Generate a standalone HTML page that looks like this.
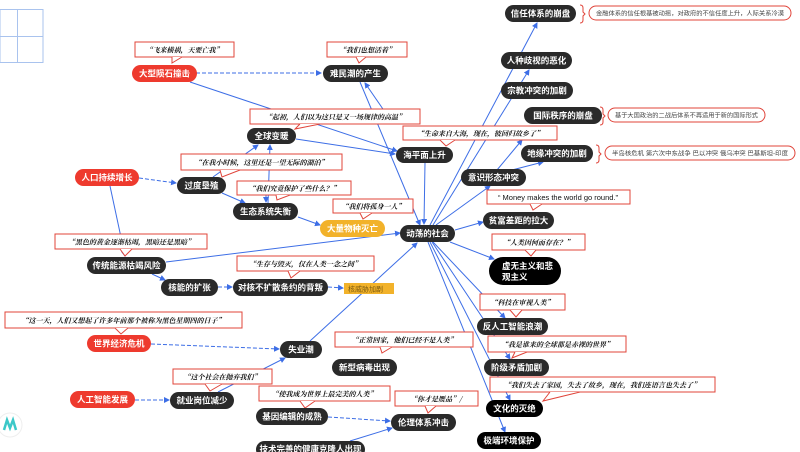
<!DOCTYPE html>
<html><head><meta charset="utf-8"><style>
html,body{margin:0;padding:0;background:#fff;width:800px;height:452px;overflow:hidden}
svg{display:block}
.n{fill:#2a2a2a}
.r{fill:#ee3a2e}
.nt{font-family:"Liberation Sans","Noto Sans CJK SC",sans-serif;font-size:8.5px;fill:#fff;text-anchor:middle;font-weight:bold}
.q{fill:#fff;stroke:#e0443a;stroke-width:1}
.qt{font-family:"Noto Serif CJK SC",serif;font-size:7px;font-style:italic;font-weight:bold;fill:#111;text-anchor:middle}
.e{stroke:#3d6ee6;stroke-width:1;fill:none;marker-end:url(#a)}
.d{stroke-dasharray:4 2}
.i{fill:#fff;stroke:#e0443a;stroke-width:1}
.it{font-family:"Liberation Sans","Noto Sans CJK SC",sans-serif;font-size:6.2px;fill:#444}
.b{stroke:#e0443a;fill:none;stroke-width:1}
</style></head><body>
<svg width="800" height="452" viewBox="0 0 800 452" xmlns="http://www.w3.org/2000/svg">
<defs><marker id="a" markerWidth="6" markerHeight="6" refX="5" refY="3" orient="auto"><path d="M0,0 L6,3 L0,6 z" fill="#3d6ee6"/></marker></defs>
<g stroke="#a9c3ee" stroke-width="1" fill="none"><rect x="0" y="9.5" width="43" height="53"/><line x1="17.5" y1="9" x2="17.5" y2="63"/><line x1="0" y1="36.5" x2="43" y2="36.5"/></g>

<line class="e d" x1="196" y1="73" x2="321" y2="73"/>
<line class="e" x1="190" y1="82" x2="397" y2="151"/>
<line class="e" x1="296" y1="139" x2="395" y2="154"/>
<line class="e" x1="385" y1="112" x2="365" y2="83"/>
<line class="e" x1="360" y1="82" x2="420" y2="225"/>
<line class="e d" x1="139" y1="178" x2="176" y2="183"/>
<line class="e" x1="110" y1="186" x2="125" y2="256"/>
<line class="e" x1="213" y1="177" x2="258" y2="145"/>
<line class="e" x1="222" y1="193" x2="245" y2="203"/>
<line class="e" x1="268" y1="203" x2="270" y2="145"/>
<line class="e" x1="266" y1="192" x2="266" y2="202"/>
<line class="e" x1="298" y1="217" x2="320" y2="225"/>
<line class="e" x1="166" y1="262" x2="400" y2="233"/>
<line class="e" x1="152" y1="274" x2="165" y2="280"/>
<line class="e d" x1="218" y1="287" x2="232" y2="287"/>
<line class="e d" x1="328" y1="287" x2="343" y2="288"/>
<line class="e d" x1="151" y1="344" x2="279" y2="349"/>
<line class="e d" x1="135" y1="400" x2="169" y2="400"/>
<line class="e" x1="218" y1="392" x2="285" y2="358"/>
<line class="e" x1="310" y1="341" x2="417" y2="243"/>
<line class="e d" x1="328" y1="417" x2="390" y2="421"/>
<line class="e" x1="350" y1="441" x2="392" y2="428"/>
<line class="e" x1="430" y1="225" x2="537" y2="23"/>
<line class="e" x1="433" y1="225" x2="529" y2="70"/>
<line class="e" x1="436" y1="225" x2="490" y2="186"/>
<line class="e" x1="497" y1="170" x2="522" y2="140"/>
<line class="e" x1="512" y1="170" x2="543" y2="162"/>
<line class="e" x1="425" y1="163" x2="424" y2="224"/>
<line class="e" x1="455" y1="230" x2="483" y2="222"/>
<line class="e" x1="450" y1="242" x2="494" y2="259"/>
<line class="e" x1="433" y1="242" x2="505" y2="318"/>
<line class="e" x1="432" y1="242" x2="510" y2="359"/>
<line class="e" x1="430" y1="242" x2="510" y2="400"/>
<line class="e" x1="428" y1="242" x2="505" y2="432"/>

<g>
<rect class="q" x="135" y="42" width="99" height="15"/><path class="q" d="M172,57 L172,63 L182,57" /><text class="qt" x="184" y="52.5">“飞来横祸，天要亡我”</text>
<rect class="q" x="327" y="42" width="80" height="15"/><path class="q" d="M356,57 L359,63 L366,57"/><text class="qt" x="367" y="52.5">“我们也想活着”</text>
<rect class="q" x="250" y="109" width="170" height="15"/><path class="q" d="M300,124 L295,129 L320,124"/><text class="qt" x="335" y="119.5">“起初，人们以为这只是又一场规律的高温”</text>
<rect class="q" x="403" y="126" width="154" height="14"/><path class="q" d="M440,140 L446,146 L455,140"/><text class="qt" x="480" y="136">“生命来自大海，现在，彼回归故乡了”</text>
<rect class="q" x="181" y="154" width="161" height="16"/><path class="q" d="M220,170 L222,177 L240,170"/><text class="qt" x="261" y="165">“在我小时候，这里还是一望无际的湖泊”</text>
<rect class="q" x="237" y="181" width="114" height="14"/><path class="q" d="M276,195 L277,200 L290,195"/><text class="qt" x="294" y="191">“我们究竟保护了些什么？”</text>
<rect class="q" x="333" y="199" width="80" height="14"/><path class="q" d="M360,213 L363,219 L372,213"/><text class="qt" x="373" y="209">“我们将孤身一人”</text>
<rect class="q" x="487" y="190" width="143" height="14"/><path class="q" d="M530,204 L533,210 L542,204"/><text class="qt" x="558" y="200" style="font-style:normal;font-weight:normal;font-family:'Liberation Sans',sans-serif;font-size:7.5px">“ Money makes the world go round.”</text>
<rect class="q" x="492" y="234" width="93" height="16"/><path class="q" d="M525,250 L531,256 L536,250"/><text class="qt" x="538" y="245">“人类因何而存在？”</text>
<rect class="q" x="55" y="234" width="152" height="15"/><path class="q" d="M120,249 L125,256 L132,249"/><text class="qt" x="131" y="244.5">“黑色的黄金逐渐枯竭，黑暗还是黑暗”</text>
<rect class="q" x="237" y="256" width="137" height="15"/><path class="q" d="M288,271 L291,278 L300,271"/><text class="qt" x="305" y="266.5">“生存与毁灭，仅在人类一念之间”</text>
<rect class="q" x="5" y="312" width="237" height="16"/><path class="q" d="M115,328 L121,334 L128,328"/><text class="qt" x="123" y="323">“这一天，人们又想起了许多年前那个被称为黑色星期四的日子”</text>
<rect class="q" x="480" y="294" width="85" height="16"/><path class="q" d="M510,310 L516,317 L522,310"/><text class="qt" x="522" y="305">“科技在审视人类”</text>
<rect class="q" x="173" y="369" width="99" height="15"/><path class="q" d="M205,384 L210,391 L222,384"/><text class="qt" x="222" y="379.5">“这个社会在抛弃我们”</text>
<rect class="q" x="335" y="332" width="138" height="15"/><path class="q" d="M380,347 L382,353 L392,347"/><text class="qt" x="404" y="342.5">“正常回家，他们已经不是人类”</text>
<rect class="q" x="488" y="336" width="138" height="16"/><path class="q" d="M515,352 L512,358 L527,352"/><text class="qt" x="557" y="347">“我是谁来的全球都是赤裸的世界”</text>
<rect class="q" x="259" y="386" width="131" height="15"/><path class="q" d="M300,401 L305,408 L315,401"/><text class="qt" x="324" y="396.5">“使我成为世界上最完美的人类”</text>
<rect class="q" x="490" y="377" width="225" height="15"/><path class="q" d="M550,392 L543,401 L580,392"/><text class="qt" x="602" y="387.5">“我们失去了家园，失去了故乡，现在，我们连语言也失去了”</text>
<rect class="q" x="395" y="391" width="83" height="15"/><path class="q" d="M425,406 L428,413 L436,406"/><text class="qt" x="436" y="401.5">“你才是赝品”/</text>
</g>

<path class="b" d="M580,5 q3,0 3,3 v4 l2,2 l-2,2 v4 q0,3 -3,3"/>
<rect class="i" x="589" y="6" width="202" height="14" rx="7"/><text class="it" x="596" y="15.3" textLength="188" lengthAdjust="spacingAndGlyphs">金融体系的信任根基被动摇，对政府的不信任度上升，人际关系冷漠</text>
<path class="b" d="M600,107 q3,0 3,3 v4 l2,2 l-2,2 v4 q0,3 -3,3"/>
<rect class="i" x="608" y="108" width="157" height="14" rx="7"/><text class="it" x="615" y="117.3" textLength="143" lengthAdjust="spacingAndGlyphs">基于大国政治的二战后体系不再适用于新的国际形式</text>
<path class="b" d="M596,145 q3,0 3,3 v4 l2,2 l-2,2 v4 q0,3 -3,3"/>
<rect class="i" x="605" y="146" width="190" height="14" rx="7"/><text class="it" x="612" y="155.3" textLength="176" lengthAdjust="spacingAndGlyphs">半岛核危机 第六次中东战争 巴以冲突 俄乌冲突 巴基斯坦-印度</text>

<g>
<rect class="r" x="132" y="65" width="65" height="17" rx="8.5"/><text class="nt" x="164.5" y="76.5">大型陨石撞击</text>
<rect class="n" x="323" y="65" width="65" height="17" rx="8.5"/><text class="nt" x="355.5" y="76.5">难民潮的产生</text>
<rect class="n" x="247" y="128" width="49" height="16" rx="8"/><text class="nt" x="271.5" y="139">全球变暖</text>
<rect class="r" x="75" y="169" width="64" height="17" rx="8.5"/><text class="nt" x="107" y="180.5">人口持续增长</text>
<rect class="n" x="177" y="177" width="49" height="17" rx="8.5"/><text class="nt" x="201.5" y="188.5">过度垦殖</text>
<rect class="n" x="233" y="203" width="65" height="17" rx="8.5"/><text class="nt" x="265.5" y="214.5">生态系统失衡</text>
<rect x="320" y="220" width="65" height="17" rx="8.5" fill="#f2b22a"/><text class="nt" x="352.5" y="231.5">大量物种灭亡</text>
<rect class="n" x="396" y="147" width="57" height="16" rx="8"/><text class="nt" x="424.5" y="158">海平面上升</text>
<rect class="n" x="505" y="5" width="71" height="17" rx="8.5"/><text class="nt" x="540.5" y="16.5">信任体系的崩盘</text>
<rect class="n" x="501" y="52" width="71" height="17" rx="8.5"/><text class="nt" x="536.5" y="63.5">人种歧视的恶化</text>
<rect class="n" x="501" y="82" width="72" height="17" rx="8.5"/><text class="nt" x="537" y="93.5">宗教冲突的加剧</text>
<rect class="n" x="524" y="107" width="78" height="17" rx="8.5"/><text class="nt" x="563" y="118.5">国际秩序的崩盘</text>
<rect class="n" x="521" y="145" width="72" height="17" rx="8.5"/><text class="nt" x="557" y="156.5">地缘冲突的加剧</text>
<rect class="n" x="461" y="169" width="65" height="17" rx="8.5"/><text class="nt" x="493.5" y="180.5">意识形态冲突</text>
<rect class="n" x="483" y="212" width="71" height="17" rx="8.5"/><text class="nt" x="518.5" y="223.5">贫富差距的拉大</text>
<rect class="n" x="400" y="225" width="55" height="17" rx="8.5"/><text class="nt" x="427.5" y="236.5">动荡的社会</text>
<rect x="489" y="257" width="72" height="28" rx="14" fill="#000"/><text class="nt" x="502" y="269" style="text-anchor:start">虚无主义和悲</text><text class="nt" x="502" y="280" style="text-anchor:start">观主义</text>
<rect class="n" x="477" y="318" width="71" height="17" rx="8.5"/><text class="nt" x="512.5" y="329.5">反人工智能浪潮</text>
<rect class="n" x="484" y="359" width="65" height="17" rx="8.5"/><text class="nt" x="516.5" y="370.5">阶级矛盾加剧</text>
<rect x="486" y="400" width="57" height="17" rx="8.5" fill="#000"/><text class="nt" x="514.5" y="411.5">文化的灭绝</text>
<rect x="477" y="432" width="64" height="17" rx="8.5" fill="#000"/><text class="nt" x="509" y="443.5">极端环境保护</text>
<rect class="n" x="87" y="257" width="79" height="17" rx="8.5"/><text class="nt" x="126.5" y="268.5">传统能源枯竭风险</text>
<rect class="n" x="161" y="279" width="57" height="17" rx="8.5"/><text class="nt" x="189.5" y="290.5">核能的扩张</text>
<rect class="n" x="233" y="279" width="95" height="17" rx="8.5"/><text class="nt" x="280.5" y="290.5">对核不扩散条约的背叛</text>
<rect x="344" y="283" width="50" height="11" fill="#f2b22a"/><text x="348" y="291.5" style="font-family:'Liberation Sans','Noto Sans CJK SC',sans-serif;font-size:7px;fill:#7a5a10">核威胁加剧</text>
<rect class="r" x="87" y="335" width="64" height="17" rx="8.5"/><text class="nt" x="119" y="346.5">世界经济危机</text>
<rect class="n" x="280" y="341" width="42" height="17" rx="8.5"/><text class="nt" x="301" y="352.5">失业潮</text>
<rect class="n" x="332" y="359" width="65" height="17" rx="8.5"/><text class="nt" x="364.5" y="370.5">新型病毒出现</text>
<rect class="r" x="70" y="391" width="65" height="17" rx="8.5"/><text class="nt" x="102.5" y="402.5">人工智能发展</text>
<rect class="n" x="170" y="392" width="64" height="17" rx="8.5"/><text class="nt" x="202" y="403.5">就业岗位减少</text>
<rect class="n" x="256" y="408" width="72" height="17" rx="8.5"/><text class="nt" x="292" y="419.5">基因编辑的成熟</text>
<rect class="n" x="391" y="414" width="65" height="17" rx="8.5"/><text class="nt" x="423.5" y="425.5">伦理体系冲击</text>
<rect class="n" x="256" y="441" width="109" height="17" rx="8.5"/><text class="nt" x="310.5" y="452">技术完善的健康克隆人出现</text>
</g>
<circle cx="10" cy="425" r="12" fill="#fff" stroke="#eee"/>
<path d="M4,430 L7,420 L10,428 L13,420 L16,430" stroke="#3cc8c8" stroke-width="2.5" fill="none"/>
</svg>
</body></html>
